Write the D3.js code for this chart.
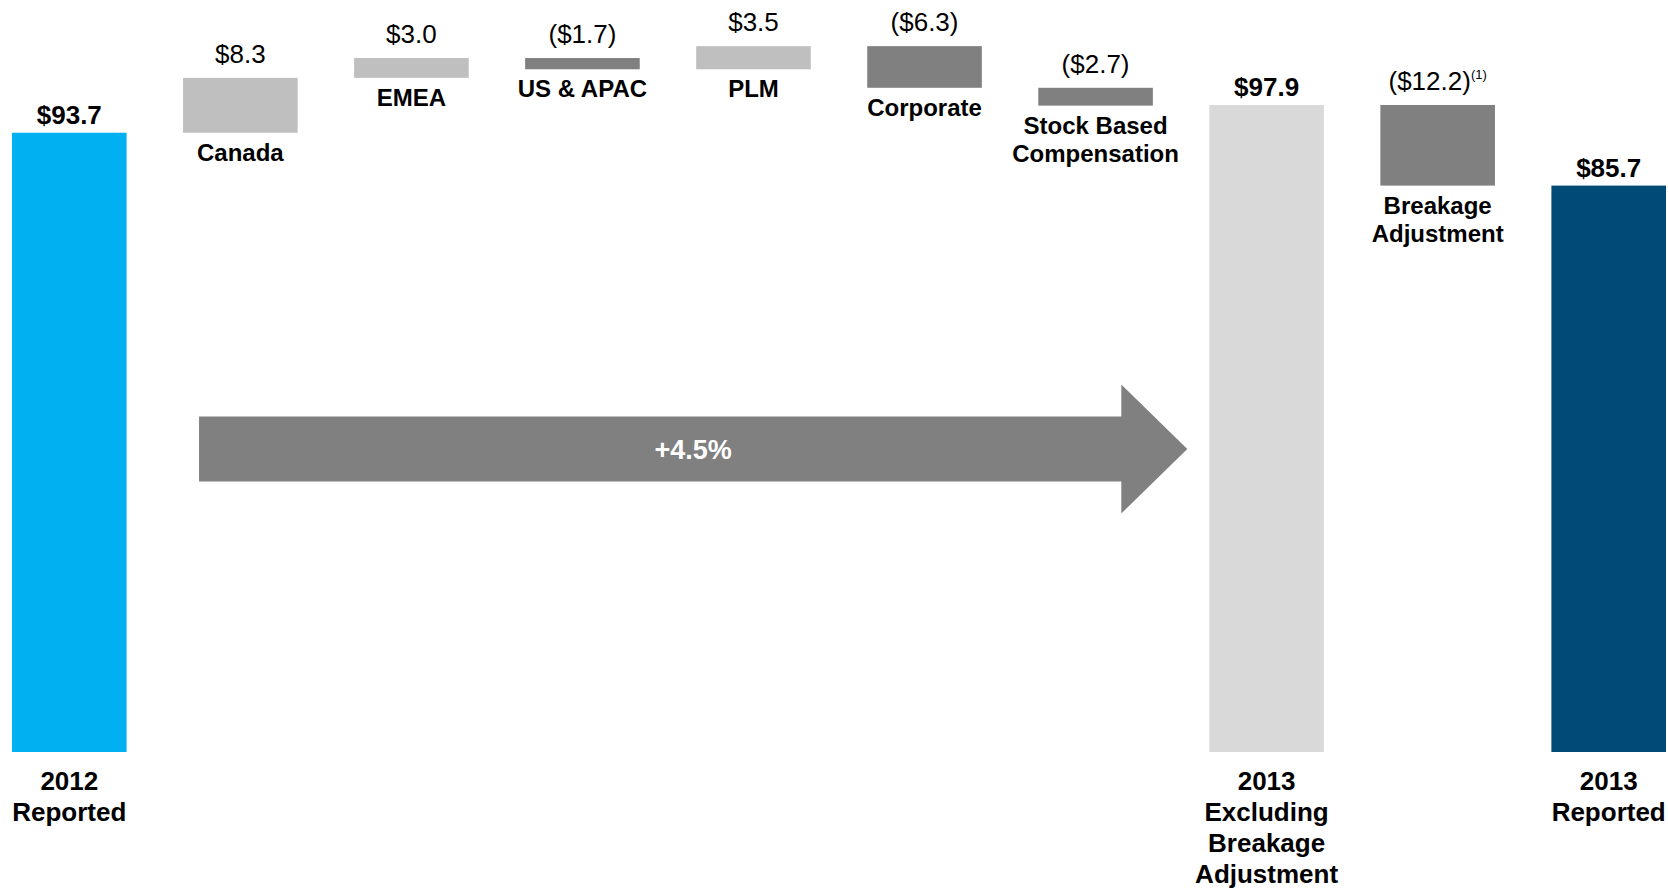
<!DOCTYPE html>
<html>
<head>
<meta charset="utf-8">
<script src="https://cdn.jsdelivr.net/npm/d3@7/dist/d3.min.js"></script>
<style>
  html, body { margin: 0; padding: 0; background: #ffffff; }
  svg { display: block; font-family: "Liberation Sans", Arial, Helvetica, sans-serif; }
</style>
</head>
<body>
<script>
// Adjusted EBITDA bridge, 2012 reported -> 2013 reported ($ millions)
const categoryLines = [
  ["2012", "Reported"],
  ["Canada"],
  ["EMEA"],
  ["US & APAC"],
  ["PLM"],
  ["Corporate"],
  ["Stock Based", "Compensation"],
  ["2013", "Excluding", "Breakage", "Adjustment"],
  ["Breakage", "Adjustment"],
  ["2013", "Reported"]
];
const values      = [93.7, 8.3, 3.0, -1.7, 3.5, -6.3, -2.7, 97.9, -12.2, 85.7];
const barKinds    = ["start", "delta", "delta", "delta", "delta", "delta", "delta", "subtotal", "delta", "end"];
const valueLabels = ["$93.7", "$8.3", "$3.0", "($1.7)", "$3.5", "($6.3)", "($2.7)", "$97.9", "($12.2)", "$85.7"];
const footnotes   = ["", "", "", "", "", "", "", "", "(1)", ""];
const growthLabel = "+4.5%";

const W = 1668, H = 888;
const baseY = 752;

const colors = {
  start: "#00b0f0",
  subtotal: "#d9d9d9",
  end: "#004a78",
  up: "#bfbfbf",
  down: "#808080",
  arrow: "#808080"
};

// Build waterfall segments from the values
let running = 0;
const bars = values.map((v, i) => {
  const kind = barKinds[i];
  let y0, y1;
  if (kind === "delta") {
    y0 = running; y1 = running + v; running = y1;
  } else {
    y0 = 0; y1 = v; running = v;
  }
  return { i, v, kind, lo: Math.min(y0, y1), hi: Math.max(y0, y1),
           lines: categoryLines[i], label: valueLabels[i], note: footnotes[i] };
});

const svg = d3.select("body").append("svg")
  .attr("width", W).attr("height", H);

const x = d3.scaleBand()
  .domain(d3.range(values.length))
  .range([12, 1666])
  .paddingInner(0.33)
  .paddingOuter(0);

const y = d3.scaleLinear().domain([0, 110]).range([baseY, 25]);

function fillFor(b) {
  if (b.kind === "delta") return b.v >= 0 ? colors.up : colors.down;
  return colors[b.kind];
}

// Bars
svg.append("g").selectAll("rect")
  .data(bars)
  .join("rect")
  .attr("x", d => x(d.i))
  .attr("width", x.bandwidth())
  .attr("y", d => y(d.hi))
  .attr("height", d => y(d.lo) - y(d.hi))
  .attr("fill", fillFor);

// Value labels above each bar
const vl = svg.append("g").selectAll("text")
  .data(bars)
  .join("text")
  .attr("x", d => x(d.i) + x.bandwidth() / 2)
  .attr("y", d => y(d.hi) - (d.kind === "delta" ? 15 : 9))
  .attr("text-anchor", "middle")
  .attr("font-size", 26)
  .attr("font-weight", d => d.kind === "delta" ? "normal" : "bold")
  .attr("fill", "#000");
vl.append("tspan").text(d => d.label);
vl.filter(d => d.note).append("tspan")
  .attr("font-size", 13)
  .attr("dy", -11)
  .text(d => d.note);

// Category labels: under the floating bars, below the axis for the totals
svg.append("g").selectAll("text")
  .data(bars)
  .join("text")
  .attr("text-anchor", "middle")
  .attr("font-weight", "bold")
  .attr("font-size", d => d.kind === "delta" ? 24 : 26)
  .attr("fill", "#000")
  .each(function (d) {
    const cx = x(d.i) + x.bandwidth() / 2;
    const isDelta = d.kind === "delta";
    const top = isDelta ? y(d.lo) + 28 : baseY + 38;
    const lh = isDelta ? 28 : 31;
    d3.select(this).selectAll("tspan")
      .data(d.lines)
      .join("tspan")
      .attr("x", cx)
      .attr("y", (s, k) => top + k * lh)
      .text(s => s);
  });

// Growth arrow spanning the bridge from Canada to the 2013 subtotal
const ax0 = x(1) + 16;
const ax1 = x(7) - 22;
const acy = 449;
const bodyH = 32.5, headH = 64.5, headL = 66;
const arrowPts = [
  [ax0, acy - bodyH], [ax1 - headL, acy - bodyH], [ax1 - headL, acy - headH],
  [ax1, acy], [ax1 - headL, acy + headH], [ax1 - headL, acy + bodyH], [ax0, acy + bodyH]
];
svg.append("path")
  .attr("d", d3.line()(arrowPts) + "Z")
  .attr("fill", colors.arrow);

svg.append("text")
  .attr("x", (ax0 + ax1) / 2)
  .attr("y", acy + 10)
  .attr("text-anchor", "middle")
  .attr("font-size", 27)
  .attr("font-weight", "bold")
  .attr("fill", "#fff")
  .text(growthLabel);
</script>
</body>
</html>
